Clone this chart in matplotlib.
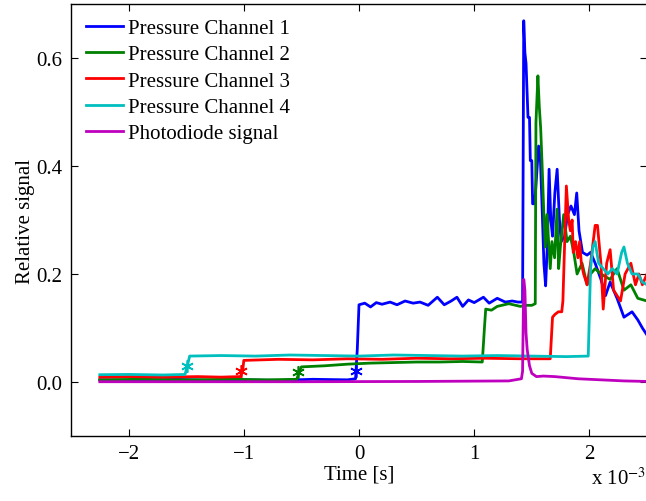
import numpy as np
import matplotlib
matplotlib.use("Agg")
import matplotlib.pyplot as plt

plt.rcParams['font.family'] = ['Liberation Serif', 'DejaVu Serif']
plt.rcParams['mathtext.fontset'] = 'stix'

# time in ms (scaled to seconds below)
t_ch1 = [-2.25, -1.9, -1.6, -1.3, -1.0, -0.7, -0.4, -0.1, -0.03, -0.015, 0.0, 0.05, 0.1, 0.15,
         0.2, 0.27, 0.33, 0.4, 0.47, 0.53, 0.6, 0.68, 0.74, 0.8, 0.85, 0.9, 0.95, 1.0, 1.08,
         1.13, 1.2, 1.27, 1.33, 1.38, 1.42, 1.43, 1.44, 1.45, 1.467, 1.48, 1.487, 1.50, 1.507,
         1.52, 1.53, 1.559, 1.575, 1.59, 1.605, 1.62, 1.636, 1.65, 1.665, 1.68, 1.70, 1.72,
         1.74, 1.755, 1.785, 1.81, 1.84, 1.87, 1.89, 1.91, 1.94, 1.98, 2.01, 2.05, 2.1, 2.14,
         2.18, 2.24, 2.3, 2.37, 2.42, 2.46, 2.5]
v_ch1 = [0.004, 0.003, 0.005, 0.003, 0.004, 0.003, 0.005, 0.004, 0.006, 0.06, 0.143, 0.146,
         0.139, 0.147, 0.144, 0.148, 0.143, 0.150, 0.146, 0.148, 0.142, 0.157, 0.143, 0.150,
         0.157, 0.140, 0.152, 0.147, 0.157, 0.146, 0.155, 0.148, 0.150, 0.148, 0.148, 0.669,
         0.61, 0.59, 0.49, 0.49, 0.41, 0.41, 0.33, 0.33, 0.345, 0.437, 0.41, 0.32, 0.22, 0.178,
         0.26, 0.394, 0.30, 0.27, 0.35, 0.394, 0.30, 0.26, 0.27, 0.31, 0.326, 0.31, 0.35, 0.28,
         0.24, 0.235, 0.24, 0.22, 0.19, 0.16, 0.185, 0.155, 0.12, 0.13, 0.115, 0.10, 0.087]

t_ch2 = [-2.25, -1.9, -1.5, -1.1, -0.8, -0.54, -0.52, -0.5, -0.3, -0.1, 0.1, 0.3, 0.5, 0.7,
         0.9, 1.07, 1.08, 1.09, 1.1, 1.15, 1.2, 1.3, 1.4, 1.45, 1.5, 1.53, 1.536, 1.553, 1.565,
         1.577, 1.588, 1.603, 1.617, 1.632, 1.646, 1.66, 1.675, 1.698, 1.719, 1.733, 1.748,
         1.777, 1.806, 1.835, 1.864, 1.893, 1.936, 1.98, 2.01, 2.05, 2.1, 2.18, 2.24, 2.3,
         2.36, 2.42, 2.5]
v_ch2 = [0.004, 0.005, 0.004, 0.005, 0.004, 0.005, 0.018, 0.028, 0.030, 0.033, 0.035, 0.036,
         0.037, 0.037, 0.038, 0.037, 0.07, 0.104, 0.135, 0.133, 0.140, 0.145, 0.140, 0.142,
         0.142, 0.145, 0.48, 0.567, 0.51, 0.47, 0.41, 0.32, 0.25, 0.31, 0.26, 0.21, 0.26, 0.23,
         0.32, 0.21, 0.25, 0.31, 0.26, 0.27, 0.24, 0.20, 0.22, 0.18, 0.20, 0.21, 0.20, 0.19,
         0.21, 0.17, 0.18, 0.155, 0.15]

t_ch3 = [-2.25, -2.0, -1.7, -1.4, -1.2, -1.03, -1.01, -1.0, -0.7, -0.4, -0.1, 0.2, 0.5, 0.8,
         1.1, 1.4, 1.66, 1.68, 1.70, 1.73, 1.76, 1.77, 1.80, 1.82, 1.835, 1.85, 1.86, 1.88,
         1.90, 1.915, 1.93, 1.95, 1.98, 2.01, 2.05, 2.07, 2.1, 2.12, 2.15, 2.18, 2.21, 2.27,
         2.31, 2.36, 2.4, 2.43, 2.46, 2.5]
v_ch3 = [0.009, 0.010, 0.009, 0.010, 0.009, 0.010, 0.02, 0.040, 0.042, 0.041, 0.043, 0.042,
         0.044, 0.043, 0.044, 0.043, 0.043, 0.12, 0.125, 0.13, 0.13, 0.15, 0.363, 0.30, 0.28,
         0.30, 0.24, 0.26, 0.23, 0.26, 0.22, 0.20, 0.18, 0.22, 0.29, 0.29, 0.22, 0.135, 0.22,
         0.245, 0.17, 0.15, 0.20, 0.22, 0.18, 0.20, 0.18, 0.20]

t_ch4 = [-2.25, -2.0, -1.7, -1.51, -1.49, -1.47, -1.2, -0.9, -0.6, -0.3, 0.0, 0.3, 0.6, 0.9,
         1.2, 1.5, 1.8, 1.99, 2.01, 2.03, 2.05, 2.08, 2.12, 2.16, 2.2, 2.24, 2.28, 2.3, 2.33,
         2.37, 2.42, 2.46, 2.5]
v_ch4 = [0.0135, 0.014, 0.013, 0.014, 0.03, 0.048, 0.049, 0.048, 0.050, 0.049, 0.048, 0.050,
         0.049, 0.048, 0.049, 0.048, 0.047, 0.048, 0.21, 0.25, 0.26, 0.22, 0.21, 0.20, 0.21,
         0.20, 0.24, 0.25, 0.22, 0.20, 0.20, 0.185, 0.18]

t_pd = [-2.25, -1.5, -0.5, 0.5, 1.3, 1.41, 1.42, 1.43, 1.44, 1.45, 1.46, 1.48, 1.50, 1.54, 1.6,
        1.7, 1.8, 1.9, 2.0, 2.1, 2.3, 2.5]
v_pd = [0.0005, 0.0005, 0.0005, 0.001, 0.002, 0.006, 0.02, 0.19, 0.17, 0.09, 0.06, 0.03, 0.016,
        0.01, 0.011, 0.01, 0.008, 0.006, 0.005, 0.004, 0.002, 0.001]

# onset markers (*)
t_onset = [-0.03, -0.53, -1.02, -1.49]
v_onset = [0.02, 0.018, 0.02, 0.03]

labels = ['Pressure Channel 1', 'Pressure Channel 2', 'Pressure Channel 3',
          'Pressure Channel 4', 'Photodiode signal']
colors = ['#0000ff', '#008000', '#ff0000', '#00bfbf', '#bf00bf']

fig = plt.figure(figsize=(6.46, 5.02), dpi=100)
ax = fig.add_axes([71 / 646, 65 / 502, 576 / 646, 432 / 502])

series = [(t_ch1, v_ch1), (t_ch2, v_ch2), (t_ch3, v_ch3), (t_ch4, v_ch4), (t_pd, v_pd)]
for (t, v), lab, c in zip(series, labels, colors):
    ax.plot(np.array(t) * 1e-3, v, color=c, lw=2.0, label=lab)

for i in range(4):
    ax.plot(t_onset[i] * 1e-3, v_onset[i], marker=(6, 2, 0), color=colors[i], ms=9, mew=1.2,
            ls='none')

ax.set_xlim(-2.5e-3, 2.5e-3)
ax.set_ylim(-0.1, 0.7)
ax.set_xticks(np.array([-2, -1, 0, 1, 2]) * 1e-3)
ax.set_xticklabels(['\u22122', '\u22121', '0', '1', '2'])
ax.set_yticks([0.0, 0.2, 0.4, 0.6])
ax.set_yticklabels(['0.0', '0.2', '0.4', '0.6'])
ax.tick_params(direction='in', top=True, right=True, length=5, labelsize=15, pad=6)
for s in ax.spines.values():
    s.set_linewidth(1.0)

ax.set_xlabel('Time [s]', fontsize=15, labelpad=1)
ax.set_ylabel('Relative signal', fontsize=15, labelpad=1)
fig.text(0.915, 0.025, r'x 10$^{-3}$', fontsize=15, ha='left', va='bottom')

ax.legend(loc='upper left', frameon=False, fontsize=15, handlelength=1.8,
          handletextpad=0.25, labelspacing=0.32, borderaxespad=0.3,
          bbox_to_anchor=(0.0, 1.0))

fig.savefig('out.png', dpi=100)
